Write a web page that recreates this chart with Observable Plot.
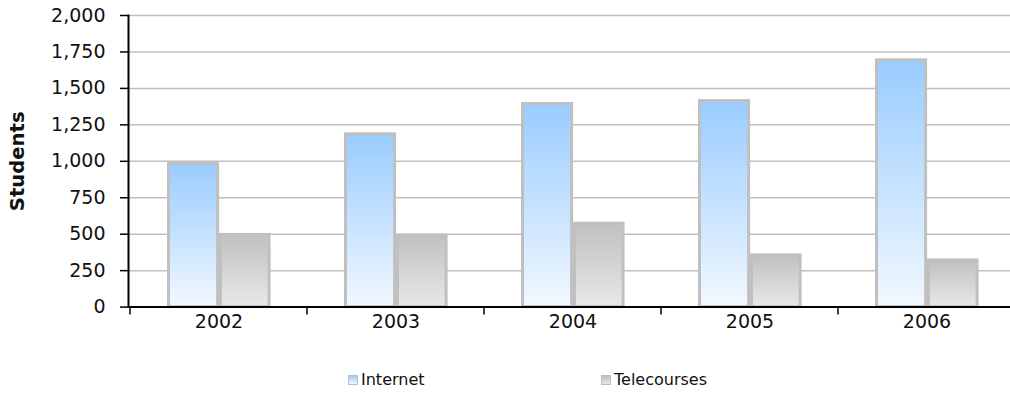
<!DOCTYPE html>
<html><head><meta charset="utf-8">
<script src="https://cdn.jsdelivr.net/npm/d3@7"></script>
<script src="https://cdn.jsdelivr.net/npm/@observablehq/plot@0.6"></script>
<style>
html,body{margin:0;padding:0;background:#fff;overflow:hidden;}
#chart svg{display:block;}
#legend{position:relative;width:1010px;height:32px;font-family:"DejaVu Sans",sans-serif;font-size:16px;color:#111;}
#legend .item{position:absolute;top:8px;display:flex;align-items:center;line-height:19px;}
#legend .sw{width:8px;height:8px;border:1.5px solid #bdbdbd;margin-right:3px;}
</style></head><body>
<div id="chart"></div>
<div id="legend"></div>
<script>
const years = ["2002", "2003", "2004", "2005", "2006"];
const internet = [985, 1185, 1393, 1413, 1693];
const telecourses = [495, 490, 572, 355, 320];
const yTicks = [0, 250, 500, 750, 1000, 1250, 1500, 1750, 2000];
const seriesNames = ["Internet", "Telecourses"];
const yLabel = "Students";

const data = years.map((y, i) => ({year: y, internet: internet[i], telecourses: telecourses[i]}));

const W = 1010, H = 362, MT = 15, MB = H - 306.6, ML = 128;

function gradients() {
  const defs = d3.create("svg:defs");
  const g1 = defs.append("linearGradient").attr("id", "gInt").attr("x1", 0).attr("y1", 0).attr("x2", 0).attr("y2", 1);
  g1.append("stop").attr("offset", "0%").attr("stop-color", "#99ccff");
  g1.append("stop").attr("offset", "100%").attr("stop-color", "#f2f8ff");
  const g2 = defs.append("linearGradient").attr("id", "gTel").attr("x1", 0).attr("y1", 0).attr("x2", 0).attr("y2", 1);
  g2.append("stop").attr("offset", "0%").attr("stop-color", "#c0c0c0");
  g2.append("stop").attr("offset", "100%").attr("stop-color", "#e8e8e8");
  return defs.node();
}

function xTicks(index, scales, values, dims) {
  const g = d3.create("svg:g");
  const y0 = dims.height - dims.marginBottom;
  for (const yr of years) {
    const px = scales.x(yr);
    g.append("line").attr("x1", px).attr("x2", px).attr("y1", y0).attr("y2", y0 + 8)
      .attr("stroke", "#000").attr("stroke-width", 1.5);
  }
  return g.node();
}

const chart = Plot.plot({
  width: W, height: H,
  marginTop: MT, marginBottom: MB, marginLeft: ML, marginRight: 0,
  style: {fontFamily: "DejaVu Sans, sans-serif", fontSize: "19px", color: "#111", background: "#fff"},
  x: {type: "band", domain: years, range: [ML, 1017.5], padding: 0, label: null},
  y: {domain: [0, 2000], label: null},
  marks: [
    gradients,
    Plot.gridY(yTicks, {stroke: "#c0c0c0", strokeOpacity: 1, strokeWidth: 1.5}),
    Plot.barY(data, {x: "year", y: "internet", fill: "url(#gInt)", stroke: "#c0c0c0", strokeWidth: 3, insetLeft: 38.5, insetRight: 89.4}),
    Plot.barY(data, {x: "year", y: "telecourses", fill: "url(#gTel)", stroke: "#c0c0c0", strokeWidth: 3, insetLeft: 90.5, insetRight: 37.9}),
    Plot.ruleY([0], {stroke: "#000", strokeWidth: 2}),
    Plot.frame({anchor: "left", stroke: "#000", strokeWidth: 2}),
    Plot.axisY(yTicks, {tickFormat: d3.format(","), tickSize: 8, tickPadding: 15, stroke: "#000", strokeWidth: 1.5, label: null}),
    Plot.axisX({tickSize: 0, tickPadding: 7, label: null}),
    xTicks,
    Plot.text([yLabel], {frameAnchor: "left", textAnchor: "middle", rotate: -90, dx: -111, fontWeight: "bold", fontSize: 19.6, fill: "#111"})
  ]
});
document.getElementById("chart").append(chart);

const legend = document.getElementById("legend");
const swFills = ["linear-gradient(#99ccff,#f2f8ff)", "linear-gradient(#c0c0c0,#e8e8e8)"];
const legendX = [348, 601];
seriesNames.forEach((name, i) => {
  const item = document.createElement("div");
  item.className = "item";
  item.style.left = legendX[i] + "px";
  const sw = document.createElement("span");
  sw.className = "sw";
  sw.style.background = swFills[i];
  const t = document.createElement("span");
  t.textContent = name;
  item.append(sw, t);
  legend.append(item);
});
</script>
</body></html>
